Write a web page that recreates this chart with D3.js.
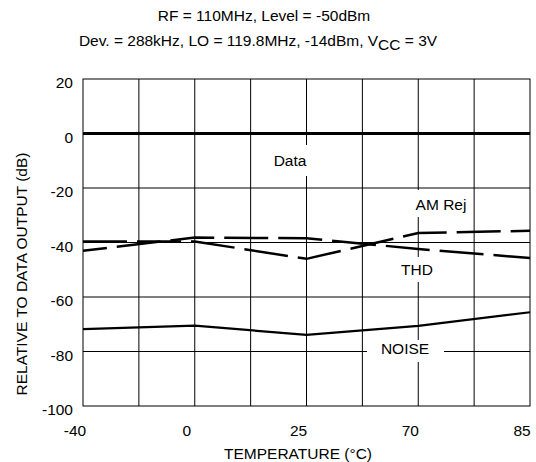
<!DOCTYPE html>
<html>
<head>
    <meta charset="utf-8">
    <script src="https://d3js.org/d3.v7.min.js"></script>
    <style>
        body { margin: 0; background: #fff; }
        svg { display: block; font-family: "Liberation Sans", Arial, sans-serif; }
    </style>
</head>
<body>
    <svg width="536" height="462"></svg>
    <script>
        // values
        const temps = ["-40", "0", "25", "70", "85"];
        const dataOut = [0, 0, 0, 0, 0];
        const amRej = [-39.6, -39.6, -46, -36.5, -35.7];
        const thd = [-43, -38.2, -38.4, -42.4, -45.7];
        const noise = [-71.8, -70.5, -73.9, -70.6, -65.6];
        const yTicks = [20, 0, -20, -40, -60, -80, -100];

        const svg = d3.select("svg");
        const plotLeft = 83, plotRight = 530, plotTop = 79, plotBottom = 406;
        const fs = 15.5;

        const x = d3.scaleLinear().domain([0, temps.length - 1]).range([plotLeft, plotRight]);
        const y = d3.scaleLinear().domain([-100, 20]).range([plotBottom, plotTop]);

        // titles
        svg.append("text").attr("x", 264).attr("y", 21).attr("text-anchor", "middle")
            .attr("font-size", fs).text("RF = 110MHz, Level = -50dBm");
        const t2 = svg.append("text").attr("x", 258).attr("y", 46).attr("text-anchor", "middle")
            .attr("font-size", fs);
        t2.append("tspan").text("Dev. = 288kHz, LO = 119.8MHz, -14dBm, V");
        t2.append("tspan").attr("dy", 4).text("CC");
        t2.append("tspan").attr("dy", -4).text(" = 3V");

        // grid
        const grid = svg.append("g").attr("stroke", "#000").attr("stroke-width", 1);
        grid.selectAll("line.v")
            .data(d3.range(0.5, temps.length - 1, 0.5))
            .enter().append("line")
            .attr("x1", d => x(d)).attr("x2", d => x(d))
            .attr("y1", plotTop).attr("y2", plotBottom);
        grid.selectAll("line.h")
            .data(yTicks.slice(1, -1))
            .enter().append("line")
            .attr("x1", plotLeft).attr("x2", plotRight)
            .attr("y1", d => y(d)).attr("y2", d => y(d));
        svg.append("rect").attr("x", plotLeft).attr("y", plotTop)
            .attr("width", plotRight - plotLeft).attr("height", plotBottom - plotTop)
            .attr("fill", "none").attr("stroke", "#000").attr("stroke-width", 1);

        // tick labels
        svg.append("g").selectAll("text")
            .data(yTicks)
            .enter().append("text")
            .attr("x", 73).attr("y", d => y(d) + 9)
            .attr("text-anchor", "end").attr("font-size", fs)
            .text(d => d);
        svg.append("g").selectAll("text")
            .data(temps)
            .enter().append("text")
            .attr("x", (d, i) => x(i) - 8).attr("y", 436)
            .attr("text-anchor", "middle").attr("font-size", fs)
            .text(d => d);

        svg.append("text").attr("x", 298).attr("y", 459).attr("text-anchor", "middle")
            .attr("font-size", fs).text("TEMPERATURE (°C)");
        svg.append("text").attr("transform", "translate(27,274) rotate(-90)")
            .attr("text-anchor", "middle").attr("font-size", fs)
            .text("RELATIVE TO DATA OUTPUT (dB)");

        // curves
        const line = d3.line().x((d, i) => x(i)).y(d => y(d));
        const curves = [
            { values: dataOut, width: 3, dash: null },
            { values: amRej, width: 2.5, dash: "44,10" },
            { values: thd, width: 2.5, dash: "44,10", offset: 20 },
            { values: noise, width: 2.2, dash: null }
        ];
        svg.append("g").selectAll("path")
            .data(curves)
            .enter().append("path")
            .attr("d", d => line(d.values))
            .attr("fill", "none").attr("stroke", "#000")
            .attr("stroke-width", d => d.width)
            .attr("stroke-dasharray", d => d.dash)
            .attr("stroke-dashoffset", d => d.offset || 0);

        // curve labels on white boxes
        const labels = [
            { text: "Data", cx: 290, base: 166, box: [270, 145, 42, 31] },
            { text: "AM Rej", cx: 441, base: 210, box: [410, 190, 62, 27] },
            { text: "THD", cx: 417, base: 275, box: [395, 257, 45, 25] },
            { text: "NOISE", cx: 405, base: 354, box: [367, 340, 77, 22] }
        ];
        const lg = svg.append("g").selectAll("g").data(labels).enter().append("g");
        lg.append("rect")
            .attr("x", d => d.box[0]).attr("y", d => d.box[1])
            .attr("width", d => d.box[2]).attr("height", d => d.box[3])
            .attr("fill", "#fff");
        lg.append("text")
            .attr("x", d => d.cx).attr("y", d => d.base)
            .attr("text-anchor", "middle").attr("font-size", fs)
            .text(d => d.text);
    </script>
</body>
</html>
